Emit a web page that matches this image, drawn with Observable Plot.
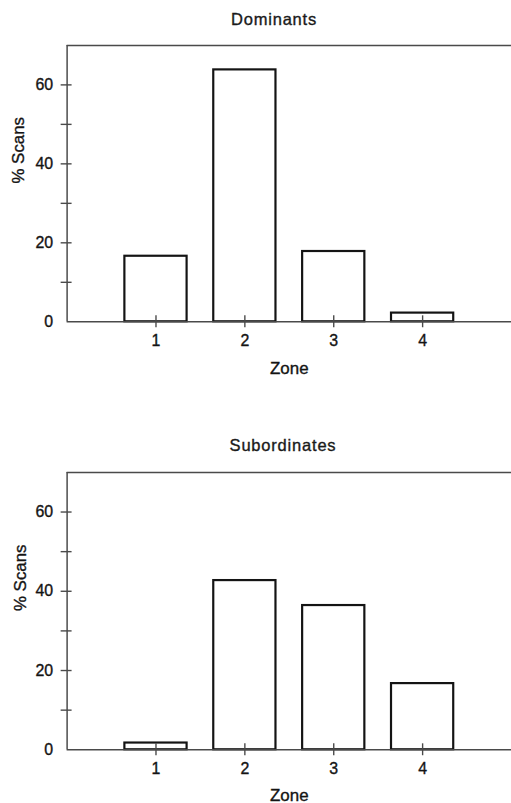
<!DOCTYPE html>
<html><head><meta charset="utf-8">
<script src="https://cdn.jsdelivr.net/npm/d3@7"></script>
<script src="https://cdn.jsdelivr.net/npm/@observablehq/plot@0.6"></script>
<style>
html,body{margin:0;padding:0;background:#fff;overflow:hidden;width:511px;height:803px;}
.title{position:absolute;transform:translate(-50%,-50%);font-family:"Liberation Sans",Arial,Helvetica,sans-serif;font-size:16.5px;letter-spacing:0.8px;color:#1a1a1a;white-space:nowrap;-webkit-text-stroke:0.35px #1a1a1a;}
.panel{position:absolute;left:0;}
.panel svg text{stroke:#141414;stroke-width:0.35px;}
</style></head><body>
<div id="t1" class="title" style="left:274px;top:19px"></div>
<div id="p1" class="panel" style="top:30px"></div>
<div id="t2" class="title" style="left:283px;top:445px"></div>
<div id="p2" class="panel" style="top:456px"></div>
<script>
const titles = ["Dominants", "Subordinates"];
const zones = [1, 2, 3, 4];
const dominants = [16.6, 63.8, 17.8, 2.2];
const subordinates = [1.7, 42.7, 36.4, 16.7];
const yLabeledTicks = [0, 20, 40, 60];
const yTickMarks = [10, 20, 30, 40, 50, 60];
const xLabel = "Zone";
const yLabel = "% Scans";
const yMax = 70;
const xMax = 5;
const barHalfWidth = 0.35;

const FONT = '"Liberation Sans", Arial, Helvetica, sans-serif';
const INK = "#141414";
const AXIS = "#4a4a4a";

function panel(values, {marginTop, innerHeight, marginBottom, xLabelDy, yLabelDx}) {
  const data = zones.map((z, i) => ({zone: z, value: values[i]}));
  return Plot.plot({
    width: 514,
    height: marginTop + innerHeight + marginBottom,
    marginLeft: 67,
    marginRight: 0,
    marginTop,
    marginBottom,
    style: {fontFamily: FONT, fontSize: "16px", color: INK, background: "transparent", overflow: "visible"},
    x: {type: "linear", domain: [0, xMax]},
    y: {type: "linear", domain: [0, yMax]},
    marks: [
      Plot.ruleY([yMax], {stroke: AXIS, strokeWidth: 1.5}),
      Plot.ruleX([0], {stroke: AXIS, strokeWidth: 1.5}),
      Plot.rectY(data, {
        x1: d => d.zone - barHalfWidth,
        x2: d => d.zone + barHalfWidth,
        y: "value",
        fill: "white",
        stroke: INK,
        strokeWidth: 2.2
      }),
      Plot.ruleY([0], {stroke: AXIS, strokeWidth: 1.5}),
      Plot.ruleY(yTickMarks, {y: d => d, x1: 0, x2: 0, insetLeft: -6, insetRight: -5, stroke: AXIS, strokeWidth: 1.4}),
      Plot.ruleX(zones, {x: d => d, y1: 0, y2: 0, insetTop: -6, insetBottom: -6, stroke: AXIS, strokeWidth: 1.4}),
      Plot.axisY(yLabeledTicks, {tickSize: 0, tickPadding: 14, label: null, fontSize: 16, tickFormat: d => String(d)}),
      Plot.axisX(zones, {tickSize: 0, tickPadding: 13, label: null, fontSize: 16, tickFormat: d => String(d)}),
      Plot.text([xLabel], {text: d => d, frameAnchor: "bottom", lineAnchor: "top", dy: xLabelDy, fontSize: 17, fill: INK}),
      Plot.text([yLabel], {text: d => d, frameAnchor: "left", rotate: -90, dx: yLabelDx, fontSize: 17, fill: INK})
    ]
  });
}

document.getElementById("t1").textContent = titles[0];
document.getElementById("t2").textContent = titles[1];
document.getElementById("p1").appendChild(panel(dominants, {marginTop: 15, innerHeight: 278, marginBottom: 62, xLabelDy: 40, yLabelDx: -49}));
document.getElementById("p2").appendChild(panel(subordinates, {marginTop: 16, innerHeight: 279, marginBottom: 52, xLabelDy: 39, yLabelDx: -47}));
</script>
</body></html>
